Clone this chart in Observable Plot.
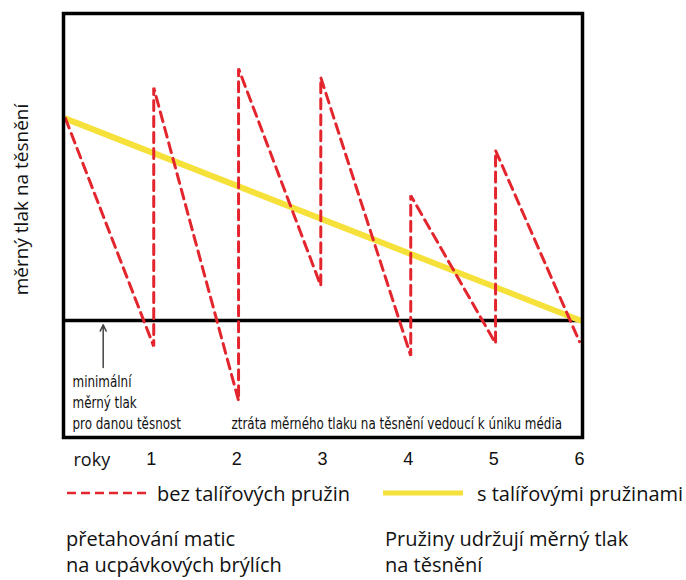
<!DOCTYPE html>
<html><head><meta charset="utf-8">
<script src="https://cdn.jsdelivr.net/npm/d3@7"></script>
<script src="https://cdn.jsdelivr.net/npm/@observablehq/plot@0.6"></script>
<style>
body{margin:0;background:#fff;}
#wrap{width:686px;background:#fff;}
.leg{position:relative;width:686px;height:105px;font-family:"Open Sans",sans-serif;font-size:20px;color:#111;}
.leg div,.leg svg{position:absolute;white-space:nowrap;}
.leg div{line-height:20px;}
</style></head><body><div id="wrap"></div>
<script>
// data
const years = [0, 1.03, 1.03, 2.02, 2.02, 2.98, 2.98, 4.03, 4.03, 5.02, 5.02, 6.0];
const pressureNoSprings = [75.2, 21.5, 82.5, 8.7, 87.0, 35.8, 84.9, 19.3, 57.1, 22.2, 67.7, 22.6];
const springYears = [0, 6.01];
const pressureSprings = [75.2, 27.6];
const minimumPressure = 27.6;
const tickYears = [1, 2, 3, 4, 5, 6];
const arrowYear = [0.44];
const arrowFrom = [16.5];
const arrowTo = [26.6];
const yLabel = "měrný tlak na těsnění";
const xLabel = "roky";
const noteMin = "minimální\nměrný tlak\npro danou těsnost";
const noteLoss = "ztráta měrného tlaku na těsnění vedoucí k úniku média";
const legendLabels = ["bez talířových pružin", "s talířovými pružinami"];
const captionLeft = ["přetahování matic", "na ucpávkových brýlích"];
const captionRight = ["Pružiny udržují měrný tlak", "na těsnění"];

const red = years.map((x, i) => ({x, y: pressureNoSprings[i]}));
const yellow = springYears.map((x, i) => ({x, y: pressureSprings[i]}));
const arrows = arrowYear.map((x, i) => ({x, y1: arrowFrom[i], y2: arrowTo[i]}));

const narrow = "DejaVu Sans Condensed";
const sans = "Open Sans";

const chart = Plot.plot({
  width: 686, height: 475,
  marginLeft: 63, marginRight: 104, marginTop: 13, marginBottom: 38,
  x: {domain: [0, 6], insetLeft: 2, insetRight: 3},
  y: {domain: [0, 100], axis: null},
  style: {background: "#fff", color: "#111"},
  marks: [
    Plot.ruleY([minimumPressure], {stroke: "#000", strokeWidth: 3.5}),
    Plot.line(yellow, {x: "x", y: "y", stroke: "#f6e03a", strokeWidth: 6, strokeLinecap: "round"}),
    Plot.line(red, {x: "x", y: "y", stroke: "#e3262e", strokeWidth: 3, strokeDasharray: "10,6", strokeLinejoin: "miter"}),
    Plot.arrow(arrows, {x: "x", y1: "y1", y2: "y2", stroke: "#444", strokeWidth: 1.5, headLength: 7, headAngle: 50}),
    Plot.frame({stroke: "#000", strokeWidth: 3.5}),
    Plot.axisX(tickYears, {tickSize: 0, tickPadding: 15, fontSize: 18, fontFamily: "Liberation Sans", label: null, fill: "#111"}),
    Plot.text([xLabel], {frameAnchor: "bottom-left", dx: 10, dy: 28, textAnchor: "start", lineAnchor: "bottom", fontSize: 18, fontFamily: sans, fill: "#111"}),
    Plot.text([yLabel], {frameAnchor: "left", rotate: -90, dx: -42, dy: -26, textAnchor: "middle", lineAnchor: "middle", fontSize: 19, fontFamily: sans, fill: "#111"}),
    Plot.text([noteMin], {frameAnchor: "bottom-left", dx: 9, dy: -9, textAnchor: "start", lineAnchor: "bottom", lineHeight: 1.4, fontSize: 15, fontFamily: narrow, fill: "#111"}),
    Plot.text([noteLoss], {frameAnchor: "bottom-left", dx: 168, dy: -9, textAnchor: "start", lineAnchor: "bottom", fontSize: 15, fontFamily: narrow, fill: "#111"})
  ]
});
document.getElementById("wrap").appendChild(chart);

// condense the annotation glyphs horizontally (narrow typeface look)
chart.querySelectorAll("g").forEach(g => {
  if (g.getAttribute("font-family") === narrow) {
    g.querySelectorAll("text").forEach(t => {
      const tr = t.getAttribute("transform") || "";
      t.setAttribute("transform", tr + " scale(0.885,1)");
    });
  }
});

const leg = document.createElement("div");
leg.className = "leg";
leg.innerHTML = `
<svg style="left:67px;top:15px" width="82" height="6"><line x1="0" y1="3" x2="82" y2="3" stroke="#e3262e" stroke-width="2.5" stroke-dasharray="9,5"/></svg>
<div style="left:157px;top:9px">${legendLabels[0]}</div>
<svg style="left:383px;top:15px" width="80" height="6"><line x1="0" y1="3" x2="80" y2="3" stroke="#f6e03a" stroke-width="5"/></svg>
<div style="left:477px;top:9px">${legendLabels[1]}</div>
<div style="left:66px;top:54px">${captionLeft[0]}</div>
<div style="left:66px;top:80px">${captionLeft[1]}</div>
<div style="left:385px;top:54px">${captionRight[0]}</div>
<div style="left:385px;top:80px">${captionRight[1]}</div>
`;
document.getElementById("wrap").appendChild(leg);
</script>
</body></html>
